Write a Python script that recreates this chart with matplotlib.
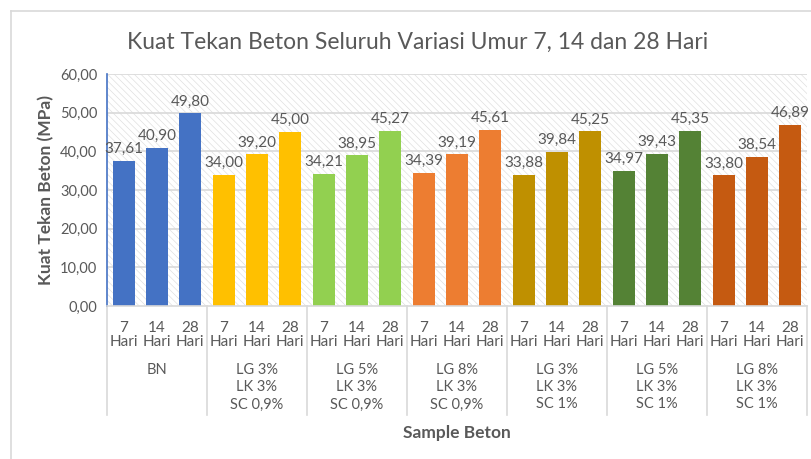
import matplotlib.pyplot as plt
import matplotlib.transforms as mtransforms
from matplotlib.lines import Line2D
from matplotlib.patches import Rectangle

plt.rcParams['font.family'] = ['Lato', 'DejaVu Sans']
plt.rcParams['hatch.linewidth'] = 0.5
plt.rcParams['hatch.color'] = '#e0e0e0'

# data
groups = ['BN', 'LG 3%\nLK 3%\nSC 0,9%', 'LG 5%\nLK 3%\nSC 0,9%', 'LG 8%\nLK 3%\nSC 0,9%',
          'LG 3%\nLK 3%\nSC 1%', 'LG 5%\nLK 3%\nSC 1%', 'LG 8%\nLK 3%\nSC 1%']
ages = ['7\nHari', '14\nHari', '28\nHari']
values = [
    [37.61, 40.90, 49.80],
    [34.00, 39.20, 45.00],
    [34.21, 38.95, 45.27],
    [34.39, 39.19, 45.61],
    [33.88, 39.84, 45.25],
    [34.97, 39.43, 45.35],
    [33.80, 38.54, 46.89],
]
colors = ['#4472C4', '#FFC000', '#92D050', '#ED7D31', '#BF9000', '#548235', '#C55A11']

gray = '#595959'
fig = plt.figure(figsize=(8.11, 4.59), dpi=100)
W, H = 811, 459
ax = fig.add_axes([107 / W, 1 - 306 / H, 700 / W, 232 / H])

n = len(ages)
ax.set_xlim(-0.5, len(groups) * n - 0.5)
ax.set_ylim(0, 60)

# hatched plot background
ax.add_patch(Rectangle((0, 0), 1, 1, transform=ax.transAxes, facecolor='white',
                       hatch='\\\\\\\\\\', edgecolor='#e0e0e0', lw=0, zorder=0))
for y in range(10, 70, 10):
    ax.axhline(y, color='#d9d9d9', lw=1.2, zorder=1)

for gi, (g, vals) in enumerate(zip(groups, values)):
    xs = [gi * n + k for k in range(n)]
    ax.bar(xs, vals, width=0.66, color=colors[gi], zorder=2)
    for x, v in zip(xs, vals):
        ax.text(x, v + 1.2, f'{v:.2f}'.replace('.', ','), ha='center', va='bottom',
                fontsize=11, color=gray, zorder=3)

ax.set_yticks(range(0, 70, 10))
ax.set_yticklabels([f'{y},00' for y in range(0, 70, 10)], fontsize=10.5, color=gray)
ax.tick_params(axis='y', length=0, pad=7)
ax.set_xticks([])
for s in ['top', 'right']:
    ax.spines[s].set_visible(False)
ax.spines['left'].set_color('#4472C4')
ax.spines['left'].set_linewidth(1.2)
ax.spines['bottom'].set_color('#d9d9d9')
ax.spines['bottom'].set_linewidth(1.2)

# category labels
trans = mtransforms.blended_transform_factory(ax.transData, ax.transAxes)
for gi, g in enumerate(groups):
    for k, a in enumerate(ages):
        ax.text(gi * n + k, -0.065, a, transform=trans, ha='center', va='top',
                fontsize=11, color=gray, linespacing=0.95)
    ax.text(gi * n + 1, -0.245, g, transform=trans, ha='center', va='top',
            fontsize=10.5, color=gray, linespacing=1.3)
for gi in range(len(groups) + 1):
    ax.add_line(Line2D([gi * n - 0.5] * 2, [0, -0.47], transform=trans, color='#d9d9d9',
                       lw=1.2, clip_on=False))

fig.text(46 / W, 1 - 190 / H, 'Kuat Tekan Beton (MPa)', rotation=90, ha='center', va='center',
         fontsize=12.5, fontweight='bold', color=gray)
fig.text(457 / W, 1 - 433 / H, 'Sample Beton', ha='center', va='center',
         fontsize=12.5, fontweight='bold', color=gray)
fig.text(418 / W, 1 - 42 / H, 'Kuat Tekan Beton Seluruh Variasi Umur 7, 14 dan 28 Hari',
         ha='center', va='center', fontsize=16.5, color=gray)

# outer chart frame
fig.add_artist(Line2D([11 / W, 11 / W], [0, 1 - 11 / H], transform=fig.transFigure,
                      color='#d9d9d9', lw=1.2))
fig.add_artist(Line2D([11 / W, 1], [1 - 11 / H] * 2, transform=fig.transFigure,
                      color='#d9d9d9', lw=1.2))

fig.savefig('out.png', dpi=100)
